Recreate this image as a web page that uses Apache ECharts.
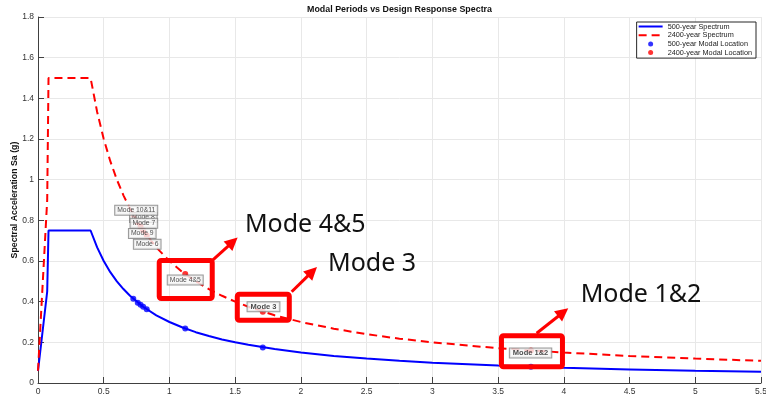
<!DOCTYPE html>
<html>
<head>
<meta charset="utf-8">
<script src="https://cdn.jsdelivr.net/npm/echarts@6/dist/echarts.min.js"></script>
<style>
  html, body { margin: 0; padding: 0; background: #fff; }
  #chart { width: 766px; height: 398px; }
</style>
</head>
<body>
<div id="chart"></div>
<script>
// Design response spectra: period T (s) against spectral acceleration Sa (g)
const periods = [0, 0.07, 0.08, 0.4, 0.45, 0.5, 0.55, 0.6, 0.65, 0.7, 0.8, 0.9, 1.0, 1.1, 1.2, 1.3,
                 1.4, 1.5, 1.6, 1.8, 2.0, 2.25, 2.5, 2.75, 3.0, 3.5, 4.0, 4.5, 5.0, 5.5];
const sa500 = [0.06, 0.45, 0.75, 0.75, 0.667, 0.60, 0.545, 0.50, 0.462, 0.429, 0.375, 0.333, 0.30, 0.273, 0.25, 0.231,
               0.214, 0.20, 0.188, 0.167, 0.15, 0.133, 0.12, 0.109, 0.10, 0.086, 0.075, 0.067, 0.06, 0.055];
const sa2400 = [0.06, 0.90, 1.50, 1.50, 1.333, 1.20, 1.091, 1.00, 0.923, 0.857, 0.75, 0.667, 0.60, 0.545, 0.50, 0.462,
                0.429, 0.40, 0.375, 0.333, 0.30, 0.267, 0.24, 0.218, 0.20, 0.171, 0.15, 0.133, 0.12, 0.109];

// Modal periods and the spectral ordinates at each of them (listed in drawing order of the tips)
const modeNames = ['Mode 1&2', 'Mode 3', 'Mode 4&5', 'Mode 6', 'Mode 8', 'Mode 7', 'Mode 9', 'Mode 10&11'];
const modePeriods = [3.75, 1.71, 1.12, 0.827, 0.78, 0.80, 0.759, 0.725];
const modeSa500 = [0.080, 0.175, 0.268, 0.363, 0.385, 0.375, 0.395, 0.414];
const modeSa2400 = [0.160, 0.351, 0.536, 0.725, 0.769, 0.750, 0.790, 0.828];
const boldTips = ['Mode 1&2', 'Mode 3'];

// Axis ranges
const xRange = [0, 5.5, 0.5];
const yRange = [0, 1.8, 0.2];

// Data-tip placement relative to the 2400-year point (px)
const tipOffsets = {
  'Mode 1&2': [-0.4, 2.5], 'Mode 3': [0.7, -5], 'Mode 4&5': [0, 6], 'Mode 6': [0.5, 8.7],
  'Mode 8': [2.8, -9.2], 'Mode 7': [0.7, -7.2], 'Mode 9': [4.5, 11.1], 'Mode 10&11': [2.9, -4.4]
};

// Highlight callouts: box [dx, dy, w, h], arrow [x1, y1, x2, y2], caption [dx, dy], all relative
const callouts = [
  { mode: 'Mode 4&5', box: [0.5, 5.5, 53, 38], arrow: [27.2, -19.7, 51.9, -42], text: [59.2, -54.5] },
  { mode: 'Mode 3', box: [0.5, -4.4, 52, 26], arrow: [28.4, -15.5, 53.7, -40.2], text: [64.7, -43.6] },
  { mode: 'Mode 1&2', box: [1, 0.8, 61, 31], arrow: [4.7, -18, 36.3, -43], text: [48.7, -56.1] }
];

const FONT = '"Liberation Sans", Arial, Helvetica, sans-serif';
const zip = (xs, ys) => xs.map((x, i) => [x, ys[i]]);

const axisCommon = {
  type: 'value',
  axisLine: { show: true, onZero: false, lineStyle: { color: '#404040', width: 1 } },
  axisTick: { show: true, inside: true, length: 6, lineStyle: { color: '#404040', width: 1 } },
  splitLine: { show: true, lineStyle: { color: '#e8e8e8', width: 1 } },
  axisLabel: { fontSize: 8.5, color: '#333', fontFamily: FONT, showMinLabel: true, showMaxLabel: true, hideOverlap: false }
};

const option = {
  animation: false,
  backgroundColor: '#fff',
  textStyle: { fontFamily: FONT },
  title: {
    text: 'Modal Periods vs Design Response Spectra',
    left: 399.5, top: 5, padding: 0, textAlign: 'center',
    textStyle: { fontSize: 8.9, fontWeight: 'bold', color: '#111', fontFamily: FONT }
  },
  grid: { left: 38, right: 5, top: 17, bottom: 15, containLabel: false, outerBoundsMode: 'none' },
  legend: {
    data: [
      { name: '500-year Spectrum', itemStyle: { opacity: 0 } },
      { name: '2400-year Spectrum', itemStyle: { opacity: 0 } },
      { name: '500-year Modal Location' },
      { name: '2400-year Modal Location' }
    ],
    orient: 'vertical', right: 10, top: 22,
    backgroundColor: '#fff', borderColor: '#262626', borderWidth: 1, borderRadius: 0,
    padding: [1, 4, 2, 1], itemGap: 1.7, itemWidth: 24, itemHeight: 5,
    selectedMode: false,
    textStyle: { fontSize: 7.3, color: '#222', fontFamily: FONT }
  },
  xAxis: Object.assign({}, axisCommon, {
    min: xRange[0], max: xRange[1], interval: xRange[2],
    axisLabel: Object.assign({}, axisCommon.axisLabel, { margin: 4 })
  }),
  yAxis: Object.assign({}, axisCommon, {
    min: yRange[0], max: yRange[1], interval: yRange[2],
    name: 'Spectral Acceleration Sa (g)', nameLocation: 'middle', nameGap: 19, nameMoveOverlap: false,
    nameTextStyle: { fontSize: 8.8, fontWeight: 'bold', color: '#111', fontFamily: FONT },
    axisLabel: Object.assign({}, axisCommon.axisLabel, { margin: 4 })
  }),
  series: [
    {
      name: '500-year Spectrum', type: 'line', data: zip(periods, sa500),
      symbol: 'none', showSymbol: false, color: '#0000ff',
      lineStyle: { color: '#0000ff', width: 2 }, z: 2
    },
    {
      name: '2400-year Spectrum', type: 'line', data: zip(periods, sa2400),
      symbol: 'none', showSymbol: false, color: '#ff0000',
      lineStyle: { color: '#ff0000', width: 2, type: [8, 5] }, z: 3
    },
    {
      name: '500-year Modal Location', type: 'scatter', data: zip(modePeriods, modeSa500),
      symbol: 'circle', symbolSize: 6, itemStyle: { color: '#0000ff' }, z: 4
    },
    {
      name: '2400-year Modal Location', type: 'scatter', data: zip(modePeriods, modeSa2400),
      symbol: 'circle', symbolSize: 6, itemStyle: { color: '#ff0000' }, z: 4
    },
    {
      name: 'tips', type: 'scatter', silent: true, z: 5,
      symbol: 'circle', symbolSize: 1, itemStyle: { color: 'transparent' },
      label: {
        show: true, position: 'inside', formatter: '{b}',
        fontSize: 6.8, color: '#1a1a1a', fontFamily: FONT,
        backgroundColor: '#f7f7f7', borderColor: '#7f7f7f', borderWidth: 1,
        padding: [1, 2, 0, 2], lineHeight: 8
      },
      data: modeNames.map((n, i) => ({
        name: n,
        value: [modePeriods[i], modeSa2400[i]],
        label: boldTips.includes(n)
          ? { offset: tipOffsets[n], fontWeight: 'bold', fontSize: 7.5, padding: [1, 3, 0, 3] }
          : { offset: tipOffsets[n] }
      }))
    }
  ]
};

const chart = echarts.init(document.getElementById('chart'), null, { renderer: 'canvas' });
chart.setOption(option);

// Red callout boxes, arrows and captions anchored to the highlighted modes
const graphics = [];
callouts.forEach(c => {
  const i = modeNames.indexOf(c.mode);
  const p = chart.convertToPixel({ gridIndex: 0 }, [modePeriods[i], modeSa2400[i]]);
  const cx = p[0] + c.box[0], cy = p[1] + c.box[1];
  graphics.push({
    type: 'rect', z: 100,
    shape: { x: cx - c.box[2] / 2, y: cy - c.box[3] / 2, width: c.box[2], height: c.box[3], r: 2 },
    style: { fill: 'none', stroke: '#ff0000', lineWidth: 5 }
  });
  const x1 = cx + c.arrow[0], y1 = cy + c.arrow[1], x2 = cx + c.arrow[2], y2 = cy + c.arrow[3];
  const len = Math.hypot(x2 - x1, y2 - y1), ux = (x2 - x1) / len, uy = (y2 - y1) / len;
  const hl = 13, hw = 6.5;
  const bx = x2 - ux * hl, by = y2 - uy * hl;
  graphics.push({
    type: 'line', z: 100,
    shape: { x1: x1, y1: y1, x2: bx + ux, y2: by + uy },
    style: { stroke: '#ff0000', lineWidth: 3 }
  });
  graphics.push({
    type: 'polygon', z: 100,
    shape: { points: [[x2, y2], [bx - uy * hw, by + ux * hw], [bx + uy * hw, by - ux * hw]] },
    style: { fill: '#ff0000' }
  });
  graphics.push({
    type: 'text', z: 100,
    x: cx + c.text[0], y: cy + c.text[1],
    style: {
      text: c.mode, fontSize: 25, fontFamily: '"Noto Sans", "Open Sans", sans-serif',
      fill: '#111', textAlign: 'left', align: 'left', textVerticalAlign: 'middle', verticalAlign: 'middle'
    }
  });
});
chart.setOption({ graphic: graphics });
</script>
</body>
</html>
